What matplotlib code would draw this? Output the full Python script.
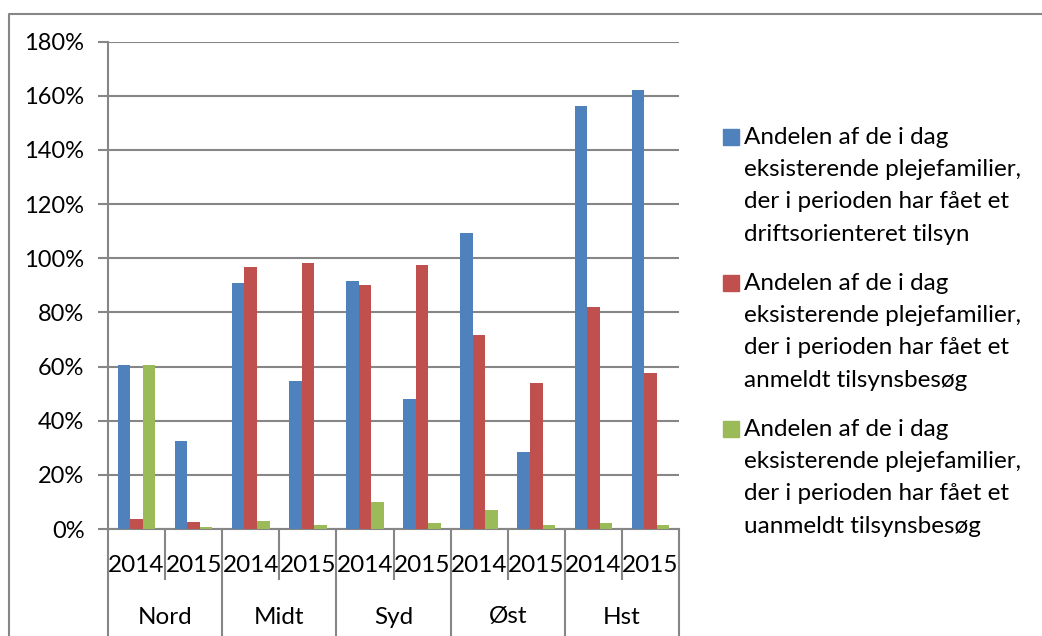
import numpy as np
import matplotlib
matplotlib.use("Agg")
import matplotlib.pyplot as plt
from matplotlib.lines import Line2D
from matplotlib.patches import Rectangle

plt.rcParams['font.family'] = ['Lato', 'DejaVu Sans']

regions = ["Nord", "Midt", "Syd", "Øst", "Hst"]
years = ["2014", "2015"]

# values in percent, order: Nord14, Nord15, Midt14, Midt15, Syd14, Syd15, Øst14, Øst15, Hst14, Hst15
drift = [60.7, 32.6, 90.8, 54.7, 91.5, 48.0, 109.3, 28.3, 156.4, 162.3]
anmeldt = [3.8, 2.5, 96.7, 98.2, 90.0, 97.4, 71.7, 54.1, 81.9, 57.7]
uanmeldt = [60.7, 0.9, 3.1, 1.6, 9.8, 2.3, 6.9, 1.6, 2.3, 1.6]

labels = [
    "Andelen af de i dag\neksisterende plejefamilier,\nder i perioden har fået et\ndriftsorienteret tilsyn",
    "Andelen af de i dag\neksisterende plejefamilier,\nder i perioden har fået et\nanmeldt tilsynsbesøg",
    "Andelen af de i dag\neksisterende plejefamilier,\nder i perioden har fået et\nuanmeldt tilsynsbesøg",
]
colors = ["#4F81BD", "#C0504D", "#9BBB59"]
yticks = [0, 20, 40, 60, 80, 100, 120, 140, 160, 180]

W, H = 1042, 636
fig = plt.figure(figsize=(W / 100, H / 100), dpi=100)


def fx(px):
    return px / W


def fy(py):
    return 1 - py / H


grey = "#868686"
x0, x1, ytop, ybot = 108, 679, 41.7, 529
ax = fig.add_axes([fx(x0), fy(ybot), fx(x1 - x0), (ybot - ytop) / H])

n = len(drift)
x = np.arange(n)
bw = 0.22
for k, (vals, c) in enumerate(zip([drift, anmeldt, uanmeldt], colors)):
    ax.bar(x + (k - 1) * bw, vals, bw, color=c, zorder=3)

ax.set_xlim(-0.5, n - 0.5)
ax.set_ylim(0, 180)
ax.set_yticks(yticks)
ax.set_yticklabels([f"{v}%" for v in yticks], fontsize=17)
ax.yaxis.grid(True, color=grey, linewidth=1.5)
ax.set_axisbelow(True)
ax.tick_params(axis='y', length=7, width=1.5, color=grey, pad=10)
ax.set_xticks([])
for s in ["top", "right"]:
    ax.spines[s].set_visible(False)
for s in ["left", "bottom"]:
    ax.spines[s].set_color(grey)
    ax.spines[s].set_linewidth(1.5)

# two-level category axis
slot = (x1 - x0) / n
for i in range(n + 1):
    px = x0 + i * slot
    end = H if i % 2 == 0 else 579
    fig.add_artist(Line2D([fx(px), fx(px)], [fy(ybot), fy(end)], color=grey, lw=1.5))
for i in range(n):
    fig.text(fx(x0 + (i + 0.5) * slot), fy(566), years[i % 2], ha="center", va="center", fontsize=17.5)
for j, r in enumerate(regions):
    fig.text(fx(x0 + (2 * j + 1) * slot), fy(617), r, ha="center", va="center", fontsize=17.5)

# outer chart border
fig.add_artist(Line2D([fx(9), fx(9), fx(W + 5)], [fy(H + 5), fy(14), fy(14)], color=grey, lw=1.5))

# legend
for i, (lab, c) in enumerate(zip(labels, colors)):
    yc = 137 + 146 * i
    fig.add_artist(Rectangle((fx(723), fy(yc + 8)), fx(16), 16 / H, color=c))
    for k, line in enumerate(lab.split("\n")):
        fig.text(fx(744), fy(yc + 32.4 * k), line, ha="left", va="center", fontsize=17.5)

fig.savefig("out.png", dpi=100)
